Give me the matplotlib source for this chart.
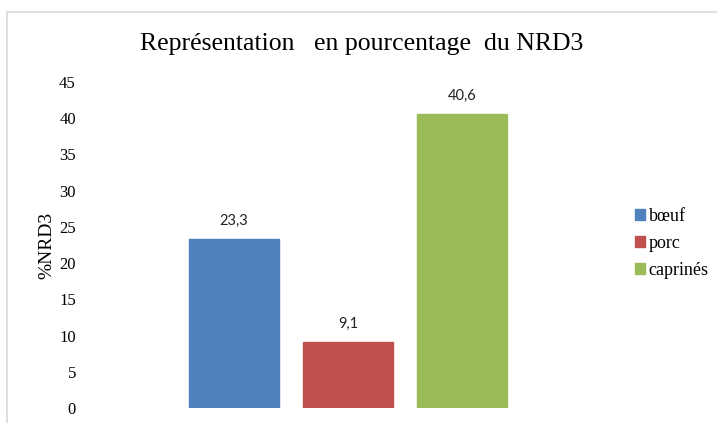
import matplotlib
matplotlib.use("Agg")
import matplotlib.pyplot as plt
from matplotlib.patches import Rectangle

categories = ["bœuf", "porc", "caprinés"]
values = [23.3, 9.1, 40.6]
labels = ["23,3", "9,1", "40,6"]
colors = ["#4F81BD", "#C0504D", "#9BBB59"]
yticks = [0, 5, 10, 15, 20, 25, 30, 35, 40, 45]

W, H = 717, 423
fig = plt.figure(figsize=(W / 100, H / 100), dpi=100)

# outer border
fig.patches.append(Rectangle((7 / W, -0.1), 1.0, 1 - 12 / H + 0.1, transform=fig.transFigure,
                             fill=False, edgecolor="#D9D9D9", linewidth=1.2))

ax_left, ax_right = 80, 616
ax_top, ax_bot = 82, 408
ax = fig.add_axes([ax_left / W, 1 - ax_bot / H, (ax_right - ax_left) / W, (ax_bot - ax_top) / H])

pos = [0, 1, 2]
px_per_unit = 114.0
center_px = 348.0
x0 = 1 - (center_px - ax_left) / px_per_unit
x1 = 1 + (ax_right - center_px) / px_per_unit

for p, v, c, lab, cat in zip(pos, values, colors, labels, categories):
    ax.bar(p, v, width=0.785, color=c, label=cat, edgecolor=c)
    ax.text(p, v + 1.5, lab, ha="center", va="bottom", fontsize=10.5,
            family=["Lato", "DejaVu Sans"], color="#222222")

ax.set_xlim(x0, x1)
ax.set_ylim(0, 45)
ax.set_yticks(yticks)
ax.set_yticklabels([str(t) for t in yticks], family="Liberation Serif", fontsize=12)
ax.tick_params(axis="y", length=0, pad=3)
ax.set_xticks([])
for s in ax.spines.values():
    s.set_visible(False)

ax.set_ylabel("%NRD3", family="Liberation Serif", fontsize=14)
ax.yaxis.set_label_coords(-0.046, 0.5)

fig.text(362 / W, 1 - 44 / H, "Représentation   en pourcentage  du NRD3", ha="center", va="center",
         family="Liberation Serif", fontsize=18.5)

leg = fig.legend(loc="upper left", bbox_to_anchor=(628 / W, 1 - 201 / H),
                 prop={"family": "Liberation Serif", "size": 13}, frameon=False,
                 handlelength=0.55, handleheight=0.55, handletextpad=0.2, labelspacing=0.55,
                 borderaxespad=0)

fig.savefig("out.png", dpi=100)
